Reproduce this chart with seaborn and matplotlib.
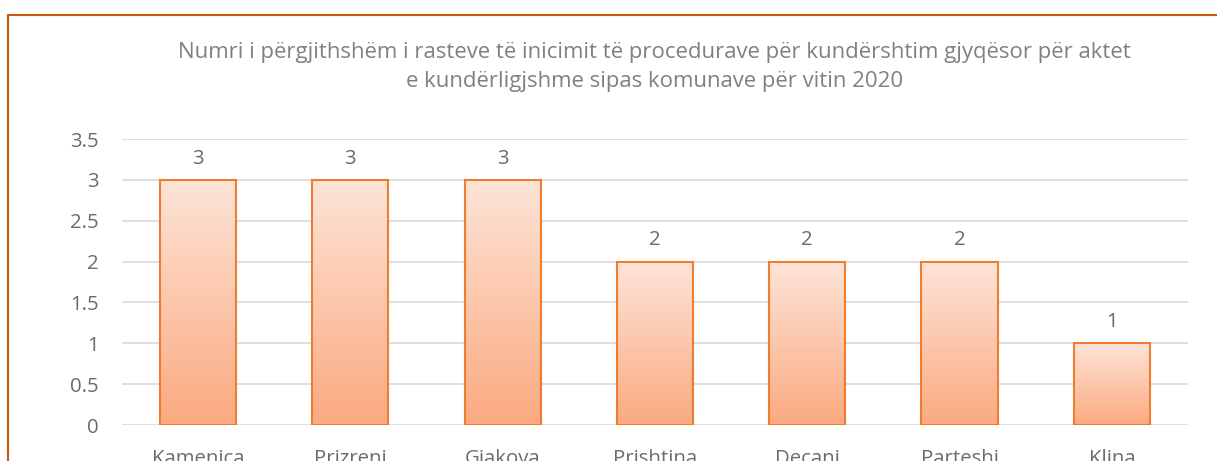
import numpy as np
import pandas as pd
import matplotlib
matplotlib.use("Agg")
import matplotlib.pyplot as plt
import seaborn as sns
from matplotlib.colors import LinearSegmentedColormap
from matplotlib.lines import Line2D

# data
municipalities = ["Kamenica", "Prizreni", "Gjakova", "Prishtina", "Decani", "Parteshi", "Klina"]
cases = [3, 3, 3, 2, 2, 2, 1]
title = ("Numri i përgjithshëm i rasteve të inicimit të procedurave për kundërshtim gjyqësor për aktet\n"
         "e kundërligjshme sipas komunave për vitin 2020")

df = pd.DataFrame({"komuna": municipalities, "raste": cases})

sns.set_theme(style="white")
plt.rcParams["font.family"] = ["Open Sans", "DejaVu Sans"]

grey = "#6b6b6b"
fig = plt.figure(figsize=(12.17, 4.61), dpi=100)
ax = fig.add_axes([122 / 1217, 1 - 425 / 461, (1188 - 122) / 1217, (425 - 139) / 461])

sns.barplot(data=df, x="komuna", y="raste", ax=ax, width=0.5,
            color="#FBB894", edgecolor="#ED7D31", linewidth=1.5, zorder=3)

ax.set_ylim(0, 3.5)
ax.set_yticks(np.arange(0, 3.51, 0.5))
ax.set_yticklabels(["0", "0.5", "1", "1.5", "2", "2.5", "3", "3.5"])
ax.grid(axis="y", color="#D9D9D9", linewidth=1.2, zorder=0)
ax.set_axisbelow(True)
for s in ax.spines.values():
    s.set_visible(False)
ax.set_xlabel("")
ax.set_ylabel("")
ax.tick_params(axis="y", colors=grey, labelsize=14.7, pad=17, length=0)
ax.tick_params(axis="x", colors=grey, labelsize=14.7, pad=17, length=0)

# gradient fill clipped to each bar
cmap = LinearSegmentedColormap.from_list("grad", ["#FBAA80", "#FDE4D7"])
grad = np.linspace(0, 1, 256).reshape(-1, 1)
for bar in ax.patches:
    x0, y0 = bar.get_x(), bar.get_y()
    w, h = bar.get_width(), bar.get_height()
    im = ax.imshow(grad, cmap=cmap, extent=[x0, x0 + w, y0, y0 + h],
                   origin="lower", aspect="auto", zorder=3.5)
    im.set_clip_path(bar)
    bar.set_facecolor("none")
    bar.set_zorder(4)
ax.set_xlim(-0.5, len(municipalities) - 0.5)
ax.set_ylim(0, 3.5)

ax.bar_label(ax.containers[0], labels=[str(v) for v in cases],
             padding=8, color=grey, fontsize=14.7)

fig.text(0.538, 1 - 67 / 461, title, ha="center", va="center",
         color="#808080", fontsize=15.9, linespacing=1.45)

# outer frame (orange, only top and left visible)
frame = "#C55A11"
fig.add_artist(Line2D([8 / 1217, 1.0], [1 - 15 / 461] * 2, color=frame, linewidth=1.5))
fig.add_artist(Line2D([8 / 1217] * 2, [0, 1 - 15 / 461], color=frame, linewidth=1.5))

fig.savefig("out.png", dpi=100)
